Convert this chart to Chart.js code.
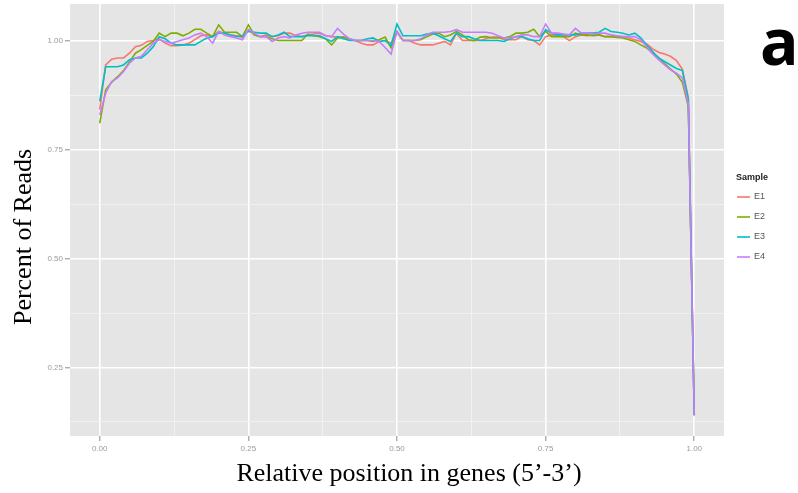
<!DOCTYPE html>
<html>
<head>
<meta charset="utf-8">
<script src="https://cdn.jsdelivr.net/npm/chart.js@4/dist/chart.umd.min.js"></script>
<style>
html,body{margin:0;padding:0;background:#fff;}
canvas{display:block;}
</style>
</head>
<body>
<canvas id="c" width="798" height="493"></canvas>
<script>
const positions = [0.00,0.01,0.02,0.03,0.04,0.05,0.06,0.07,0.08,0.09,
0.10,0.11,0.12,0.13,0.14,0.15,0.16,0.17,0.18,0.19,
0.20,0.21,0.22,0.23,0.24,0.25,0.26,0.27,0.28,0.29,
0.30,0.31,0.32,0.33,0.34,0.35,0.36,0.37,0.38,0.39,
0.40,0.41,0.42,0.43,0.44,0.45,0.46,0.47,0.48,0.49,
0.50,0.51,0.52,0.53,0.54,0.55,0.56,0.57,0.58,0.59,
0.60,0.61,0.62,0.63,0.64,0.65,0.66,0.67,0.68,0.69,
0.70,0.71,0.72,0.73,0.74,0.75,0.76,0.77,0.78,0.79,
0.80,0.81,0.82,0.83,0.84,0.85,0.86,0.87,0.88,0.89,
0.90,0.91,0.92,0.93,0.94,0.95,0.96,0.97,0.98,0.99,1.00];

const sampleE1 = [0.842,0.945,0.958,0.961,0.961,0.972,0.987,0.990,0.999,1.001,
1.005,0.995,0.989,0.989,0.991,0.995,1.003,1.012,1.014,1.010,
1.022,1.018,1.014,1.012,1.008,1.026,1.014,1.010,1.014,1.010,
1.012,1.018,1.018,1.012,1.010,1.014,1.016,1.018,1.012,1.010,
1.009,1.009,1.003,1.001,0.995,0.991,0.991,0.999,1.001,0.995,
1.022,1.001,1.001,0.995,0.991,0.991,0.991,0.995,0.999,0.991,
1.018,1.001,1.001,1.001,1.001,1.005,1.009,1.009,1.003,1.003,
1.003,1.010,1.003,1.001,0.991,1.010,1.014,1.012,1.010,1.001,
1.010,1.014,1.012,1.014,1.014,1.010,1.010,1.010,1.010,1.007,
1.003,0.999,0.993,0.982,0.974,0.970,0.965,0.955,0.935,0.870,0.140];

const sampleE2 = [0.811,0.888,0.905,0.918,0.932,0.952,0.972,0.980,0.990,0.999,
1.018,1.010,1.018,1.018,1.012,1.018,1.027,1.027,1.018,1.010,
1.037,1.020,1.020,1.020,1.010,1.037,1.014,1.010,1.010,1.005,
1.001,1.001,1.001,1.001,1.001,1.016,1.012,1.010,1.005,0.991,
1.007,1.009,1.005,1.001,1.001,1.001,0.999,1.003,1.009,0.984,
1.020,1.001,1.001,1.001,1.003,1.010,1.016,1.018,1.010,1.014,
1.022,1.014,1.003,1.001,1.009,1.010,1.007,1.007,1.007,1.010,
1.018,1.018,1.020,1.027,1.010,1.022,1.010,1.010,1.010,1.010,
1.018,1.014,1.014,1.012,1.014,1.010,1.010,1.008,1.007,1.003,
0.999,0.991,0.984,0.972,0.962,0.948,0.936,0.924,0.905,0.850,0.140];

const sampleE3 = [0.861,0.941,0.941,0.941,0.945,0.957,0.961,0.961,0.972,0.987,
1.010,1.005,0.995,0.991,0.991,0.991,0.991,0.999,1.007,1.010,
1.018,1.018,1.014,1.010,1.012,1.022,1.020,1.018,1.018,1.010,
1.014,1.020,1.010,1.010,1.010,1.012,1.012,1.012,1.005,0.999,
1.010,1.005,1.001,1.001,1.001,1.005,1.007,0.999,1.001,0.990,
1.039,1.012,1.012,1.012,1.012,1.016,1.018,1.012,1.005,0.999,
1.018,1.010,1.010,1.005,1.001,1.001,1.001,1.001,0.999,1.005,
1.010,1.010,1.005,1.001,1.001,1.026,1.018,1.014,1.014,1.014,
1.014,1.018,1.018,1.018,1.020,1.029,1.022,1.020,1.018,1.014,
1.018,1.007,0.991,0.976,0.961,0.953,0.945,0.937,0.932,0.865,0.140];

const sampleE4 = [0.830,0.880,0.907,0.915,0.930,0.949,0.961,0.965,0.980,0.995,
1.003,0.999,0.995,0.999,1.003,1.007,1.014,1.018,1.010,0.995,
1.022,1.014,1.010,1.007,1.003,1.026,1.018,1.010,1.010,0.999,
1.007,1.010,1.007,1.014,1.018,1.020,1.020,1.020,1.012,1.010,
1.029,1.016,1.005,1.001,1.001,1.001,1.001,0.999,0.985,0.970,
1.022,1.001,1.001,1.001,1.005,1.014,1.020,1.020,1.020,1.022,
1.026,1.020,1.020,1.020,1.020,1.020,1.018,1.012,1.007,1.007,
1.010,1.014,1.014,1.010,1.010,1.039,1.018,1.018,1.016,1.014,
1.029,1.018,1.018,1.016,1.018,1.018,1.014,1.012,1.010,1.010,
1.010,1.003,0.987,0.970,0.957,0.945,0.934,0.926,0.915,0.855,0.140];

const sampleNames = ["E1","E2","E3","E4"];
const sampleColors = ["#F8766D","#7CAE00","#00BFC4","#C77CFF"];
const xMajorTicks = [0.00,0.25,0.50,0.75,1.00];
const xMinorTicks = [0.125,0.375,0.625,0.875];
const yMajorTicks = [0.25,0.50,0.75,1.00];
const yMinorTicks = [0.125,0.375,0.625,0.875];
const xTitle = "Relative position in genes (5\u2019-3\u2019)";
const yTitle = "Percent of Reads";
const legendTitle = "Sample";
const panelLabel = "a";

const seriesValues = [sampleE1, sampleE2, sampleE3, sampleE4];

function isMajor(list, v){ return list.some(m => Math.abs(m - v) < 1e-6); }

const datasets = seriesValues.map((vals, k) => ({
  label: sampleNames[k],
  data: positions.map((p, i) => ({x: p, y: vals[i]})),
  borderColor: sampleColors[k],
  backgroundColor: sampleColors[k],
  borderWidth: 1.6,
  pointRadius: 0,
  tension: 0,
  fill: false,
  order: 3 - k
}));

const panelBg = {
  id: 'panelBg',
  beforeDraw(chart){
    const {ctx, chartArea:a} = chart;
    ctx.save();
    ctx.fillStyle = '#E5E5E5';
    ctx.fillRect(a.left, a.top, a.right - a.left, a.bottom - a.top);
    ctx.restore();
  }
};

const decorations = {
  id: 'decorations',
  afterDraw(chart){
    const ctx = chart.ctx;
    ctx.save();
    ctx.fillStyle = '#000';
    ctx.font = '26px "Liberation Serif"';
    ctx.textAlign = 'center';
    ctx.textBaseline = 'middle';
    ctx.save();
    ctx.translate(24, 237);
    ctx.rotate(-Math.PI/2);
    ctx.fillText(yTitle, 0, 0);
    ctx.restore();
    ctx.fillText(xTitle, 409, 474);
    ctx.font = 'bold 64px "Open Sans"';
    ctx.textAlign = 'left';
    ctx.textBaseline = 'alphabetic';
    ctx.fillText(panelLabel, 760, 65);
    ctx.font = 'bold 9px "Liberation Sans"';
    ctx.fillStyle = '#222';
    ctx.textBaseline = 'middle';
    ctx.fillText(legendTitle, 736, 178);
    ctx.font = '9px "Liberation Sans"';
    sampleNames.forEach((n, k) => {
      const y = 197 + k * 20;
      ctx.strokeStyle = sampleColors[k];
      ctx.lineWidth = 1.6;
      ctx.beginPath();
      ctx.moveTo(737, y);
      ctx.lineTo(750, y);
      ctx.stroke();
      ctx.fillStyle = '#555';
      ctx.fillText(n, 754, y);
    });
    ctx.restore();
  }
};

new Chart(document.getElementById('c'), {
  type: 'line',
  data: { datasets },
  options: {
    responsive: false,
    animation: false,
    devicePixelRatio: 1,
    layout: { padding: { left: 0, top: 4, right: 74, bottom: 0 } },
    plugins: { legend: { display: false }, tooltip: { enabled: false } },
    scales: {
      x: {
        type: 'linear',
        min: -0.05,
        max: 1.05,
        afterBuildTicks(scale){
          scale.ticks = xMajorTicks.concat(xMinorTicks).sort((a,b)=>a-b).map(v => ({value: v}));
        },
        afterFit(scale){ scale.height = 57; scale.paddingLeft = 0; scale.paddingRight = 0; },
        border: { display: false },
        grid: {
          drawOnChartArea: true,
          color: c => isMajor(xMajorTicks, c.tick.value) ? '#FFFFFF' : '#F2F2F2',
          lineWidth: c => isMajor(xMajorTicks, c.tick.value) ? 1.6 : 0.9,
          tickColor: c => isMajor(xMajorTicks, c.tick.value) ? '#8A8A8A' : 'rgba(0,0,0,0)',
          tickLength: 5,
          tickWidth: 1
        },
        ticks: {
          autoSkip: false,
          maxRotation: 0,
          padding: 3,
          color: '#9A9A9A',
          font: { family: '"Liberation Sans"', size: 8 },
          callback: v => isMajor(xMajorTicks, v) ? v.toFixed(2) : ''
        }
      },
      y: {
        type: 'linear',
        min: 0.0925,
        max: 1.085,
        afterBuildTicks(scale){
          scale.ticks = yMajorTicks.concat(yMinorTicks).sort((a,b)=>a-b).map(v => ({value: v}));
        },
        afterFit(scale){ scale.width = 70; scale.paddingTop = 0; scale.paddingBottom = 0; },
        border: { display: false },
        grid: {
          drawOnChartArea: true,
          color: c => isMajor(yMajorTicks, c.tick.value) ? '#FFFFFF' : '#F2F2F2',
          lineWidth: c => isMajor(yMajorTicks, c.tick.value) ? 1.6 : 0.9,
          tickColor: c => isMajor(yMajorTicks, c.tick.value) ? '#8A8A8A' : 'rgba(0,0,0,0)',
          tickLength: 5,
          tickWidth: 1
        },
        ticks: {
          autoSkip: false,
          padding: 2,
          color: '#9A9A9A',
          font: { family: '"Liberation Sans"', size: 8 },
          callback: v => isMajor(yMajorTicks, v) ? v.toFixed(2) : ''
        }
      }
    }
  },
  plugins: [panelBg, decorations]
});
</script>
</body>
</html>
